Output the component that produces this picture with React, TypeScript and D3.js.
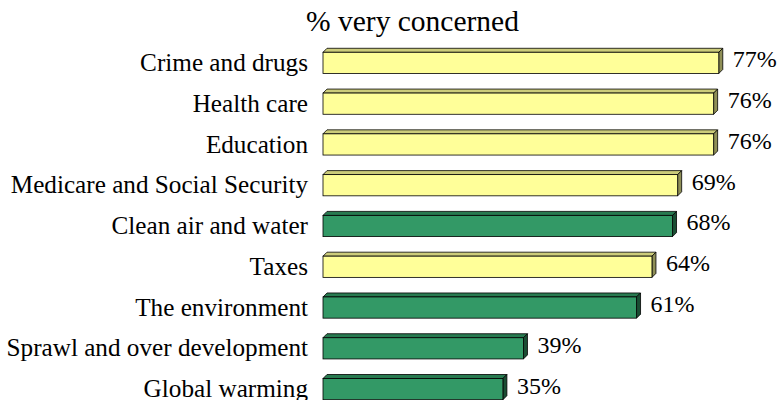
import React, { useEffect, useRef } from 'react';
import * as d3 from 'd3';

// Survey data: share of respondents "very concerned"
const categories = [
  'Crime and drugs',
  'Health care',
  'Education',
  'Medicare and Social Security',
  'Clean air and water',
  'Taxes',
  'The environment',
  'Sprawl and over development',
  'Global warming',
];
const values = [77, 76, 76, 69, 68, 64, 61, 39, 35];
// environmental issues are highlighted green
const groups = ['other', 'other', 'other', 'other', 'env', 'other', 'env', 'env', 'env'];
const chartTitle = '% very concerned';

const palette: Record<string, { front: string; top: string; side: string }> = {
  other: { front: '#FFFF99', top: '#CCCC7A', side: '#8F8F57' },
  env: { front: '#339966', top: '#287A50', side: '#1A4D33' },
};

const WIDTH = 778;
const HEIGHT = 400;
const DEPTH = 4;
const FONT = "'Times New Roman', 'Liberation Serif', serif";

const App: React.FC = () => {
  const svgRef = useRef<SVGSVGElement>(null);

  useEffect(() => {
    if (!svgRef.current) return;
    const svg = d3.select(svgRef.current);
    svg.selectAll('*').remove();

    const x = d3.scaleLinear().domain([0, 100]).range([323, 837]);
    const y = d3.scaleBand<string>()
      .domain(categories)
      .range([42.5, 409.5])
      .paddingInner(0.48)
      .paddingOuter(0.24);

    const rows = categories.map((c, i) => ({ name: c, value: values[i], group: groups[i] }));

    // title
    svg.append('text')
      .attr('x', 412.5)
      .attr('y', 31)
      .attr('text-anchor', 'middle')
      .attr('font-family', FONT)
      .attr('font-size', 29.5)
      .text(chartTitle);

    const row = svg.selectAll('g.row')
      .data(rows)
      .join('g')
      .attr('class', 'row');

    const x0 = x(0);
    const h = y.bandwidth();

    // top face
    row.append('path')
      .attr('d', d => {
        const top = y(d.name)!;
        const x1 = x(d.value);
        return `M${x0},${top}L${x0 + DEPTH},${top - DEPTH}L${x1 + DEPTH},${top - DEPTH}L${x1},${top}Z`;
      })
      .attr('fill', d => palette[d.group].top)
      .attr('stroke', '#000')
      .attr('stroke-width', 0.8)
      .attr('stroke-linejoin', 'round');

    // side face
    row.append('path')
      .attr('d', d => {
        const top = y(d.name)!;
        const x1 = x(d.value);
        return `M${x1},${top}L${x1 + DEPTH},${top - DEPTH}L${x1 + DEPTH},${top + h - DEPTH}L${x1},${top + h}Z`;
      })
      .attr('fill', d => palette[d.group].side)
      .attr('stroke', '#000')
      .attr('stroke-width', 0.8)
      .attr('stroke-linejoin', 'round');

    // front face
    row.append('rect')
      .attr('x', x0)
      .attr('y', d => y(d.name)!)
      .attr('width', d => x(d.value) - x0)
      .attr('height', h)
      .attr('fill', d => palette[d.group].front)
      .attr('stroke', '#000')
      .attr('stroke-width', 0.8);

    // category labels
    row.append('text')
      .attr('x', 308)
      .attr('y', d => y(d.name)! + h / 2)
      .attr('dy', '0.32em')
      .attr('text-anchor', 'end')
      .attr('font-family', FONT)
      .attr('font-size', 25.2)
      .text(d => d.name);

    // value labels
    row.append('text')
      .attr('x', d => x(d.value) + DEPTH + 10)
      .attr('y', d => y(d.name)! + h / 2 - 3.5)
      .attr('dy', '0.33em')
      .attr('font-family', FONT)
      .attr('font-size', 24)
      .text(d => `${d.value}%`);
  }, []);

  return (
    <div style={{ position: 'absolute', left: 0, top: 0 }}>
      <svg ref={svgRef} width={WIDTH} height={HEIGHT} style={{ display: 'block', background: '#fff' }} />
    </div>
  );
};

export default App;
